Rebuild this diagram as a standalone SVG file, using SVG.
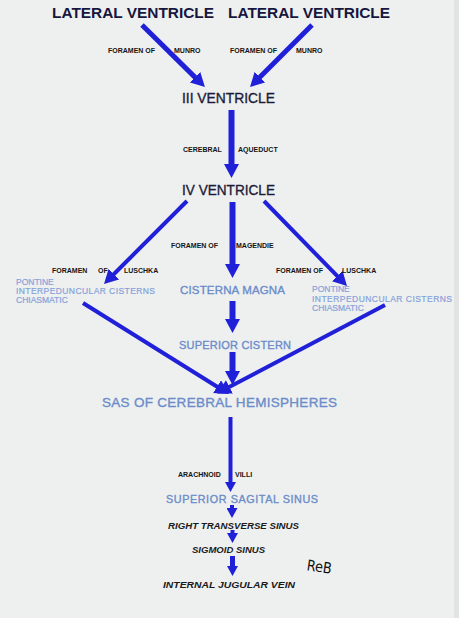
<svg xmlns="http://www.w3.org/2000/svg" width="459" height="618" viewBox="0 0 459 618">
<defs>
<style>
.t{font-family:"Liberation Sans",Arial,sans-serif;}
.h{font-weight:bold;fill:#16163e;}
.v{fill:#1c1c38;stroke:#1c1c38;stroke-width:0.35;}
.s{font-weight:bold;font-size:7px;fill:#141414;}
.b{fill:#6b8cc9;stroke:#6b8cc9;stroke-width:0.35;}
.lb{fill:#86a2da;font-size:8.5px;stroke:#86a2da;stroke-width:0.2;}
.i{font-weight:bold;font-style:italic;fill:#1a1a1a;font-size:9.5px;}
.a{stroke:#2020d8;fill:none;stroke-linecap:butt;}
.w6{stroke-width:6;}
.w5{stroke-width:5;}
.w4{stroke-width:4;}
</style>
<marker id="big" markerUnits="userSpaceOnUse" markerWidth="14" markerHeight="15" refX="2" refY="7.5" orient="auto">
<path d="M0,0 L14,7.5 L0,15 z" fill="#2020d8"/>
</marker>
<marker id="small" markerUnits="userSpaceOnUse" markerWidth="10" markerHeight="11" refX="2" refY="5.5" orient="auto">
<path d="M0,0 L10,5.5 L0,11 z" fill="#2020d8"/>
</marker>
</defs>
<rect width="459" height="618" fill="#eef0f0"/>
<rect x="454" y="0" width="5" height="618" fill="#e2e4e4"/>

<g id="connectors">
<line class="a w5" x1="142" y1="25" x2="196.4" y2="78.6" marker-end="url(#big)"/>
<line class="a w5" x1="312" y1="25" x2="258.5" y2="78.5" marker-end="url(#big)"/>
<line class="a w6" x1="231.5" y1="110" x2="231.5" y2="166" marker-end="url(#big)"/>
<line class="a w4" x1="187" y1="201" x2="112.5" y2="275.5" marker-end="url(#big)"/>
<line class="a w6" x1="232.5" y1="202" x2="232.5" y2="266" marker-end="url(#big)"/>
<line class="a w4" x1="264" y1="201" x2="338.6" y2="277.4" marker-end="url(#big)"/>
<line class="a w6" x1="232.5" y1="301" x2="232.5" y2="321" marker-end="url(#big)"/>
<line class="a w4" x1="83" y1="303" x2="218.8" y2="387.7" marker-end="url(#big)"/>
<line class="a w4" x1="385" y1="305" x2="227.7" y2="387.8" marker-end="url(#big)"/>
<line class="a w6" x1="232.5" y1="352" x2="232.5" y2="373" marker-end="url(#big)"/>
<line class="a w4" x1="230.5" y1="417" x2="230.5" y2="484" marker-end="url(#small)"/>
<line class="a w4" x1="232" y1="505" x2="232" y2="510" marker-end="url(#small)"/>
<line class="a w4" x1="232.5" y1="530" x2="232.5" y2="535" marker-end="url(#small)"/>
<line class="a w5" x1="232.5" y1="556" x2="232.5" y2="568" marker-end="url(#small)"/>
</g>

<g id="lateral-left"><text class="t h" x="52" y="18" font-size="14.5" textLength="162" lengthAdjust="spacingAndGlyphs">LATERAL VENTRICLE</text></g>
<g id="lateral-right"><text class="t h" x="228" y="18" font-size="14.5" textLength="162" lengthAdjust="spacingAndGlyphs">LATERAL VENTRICLE</text></g>
<g id="munro-left"><text class="t s" x="108" y="53">FORAMEN OF</text><text class="t s" x="174" y="53">MUNRO</text></g>
<g id="munro-right"><text class="t s" x="230" y="53">FORAMEN OF</text><text class="t s" x="296" y="53">MUNRO</text></g>
<g id="third-ventricle"><text class="t v" x="182" y="103" font-size="14" textLength="93" lengthAdjust="spacingAndGlyphs">III VENTRICLE</text></g>
<g id="aqueduct"><text class="t s" x="183" y="152">CEREBRAL</text><text class="t s" x="238" y="152">AQUEDUCT</text></g>
<g id="fourth-ventricle"><text class="t v" x="182" y="195" font-size="14" textLength="93" lengthAdjust="spacingAndGlyphs">IV VENTRICLE</text></g>
<g id="magendie"><text class="t s" x="171" y="248">FORAMEN  OF</text><text class="t s" x="236" y="248">MAGENDIE</text></g>
<g id="luschka-left"><text class="t s" x="52" y="273">FORAMEN</text><text class="t s" x="98" y="273">OF</text><text class="t s" x="124" y="273">LUSCHKA</text></g>
<g id="luschka-right"><text class="t s" x="276" y="273">FORAMEN OF</text><text class="t s" x="342" y="273">LUSCHKA</text></g>
<g id="cisterns-left">
<text class="t lb" x="16" y="285">PONTINE</text>
<text class="t lb" x="16" y="294" textLength="139" lengthAdjust="spacing">INTERPEDUNCULAR  CISTERNS</text>
<text class="t lb" x="16" y="303">CHIASMATIC</text>
</g>
<g id="cisterns-right">
<text class="t lb" x="312" y="292">PONTINE</text>
<text class="t lb" x="312" y="302" textLength="140" lengthAdjust="spacing">INTERPEDUNCULAR  CISTERNS</text>
<text class="t lb" x="312" y="311">CHIASMATIC</text>
</g>
<g id="cisterna-magna"><text class="t b" x="180" y="294" font-size="11.5" textLength="105" lengthAdjust="spacing">CISTERNA MAGNA</text></g>
<g id="superior-cistern"><text class="t b" x="179" y="349" font-size="11" textLength="112" lengthAdjust="spacing">SUPERIOR CISTERN</text></g>
<g id="sas"><text class="t b" x="102" y="407" font-size="13.5" textLength="235" lengthAdjust="spacing">SAS OF CEREBRAL  HEMISPHERES</text></g>
<g id="villi"><text class="t s" x="178" y="477">ARACHNOID</text><text class="t s" x="235" y="477">VILLI</text></g>
<g id="superior-sagital-sinus"><text class="t b" x="166" y="503" font-size="10.8" textLength="152" lengthAdjust="spacing">SUPERIOR  SAGITAL  SINUS</text></g>
<g id="transverse-sinus"><text class="t i" x="168" y="529" textLength="131" lengthAdjust="spacingAndGlyphs">RIGHT TRANSVERSE SINUS</text></g>
<g id="sigmoid-sinus"><text class="t i" x="192" y="553" textLength="73" lengthAdjust="spacingAndGlyphs">SIGMOID SINUS</text></g>
<g id="jugular-vein"><text class="t i" x="163" y="588" textLength="132" lengthAdjust="spacingAndGlyphs">INTERNAL JUGULAR VEIN</text></g>
<text x="307" y="572" font-family="'DejaVu Sans',sans-serif" font-size="15" fill="#111" textLength="25" lengthAdjust="spacingAndGlyphs" transform="rotate(8 320 566)">ReB</text>
</svg>
